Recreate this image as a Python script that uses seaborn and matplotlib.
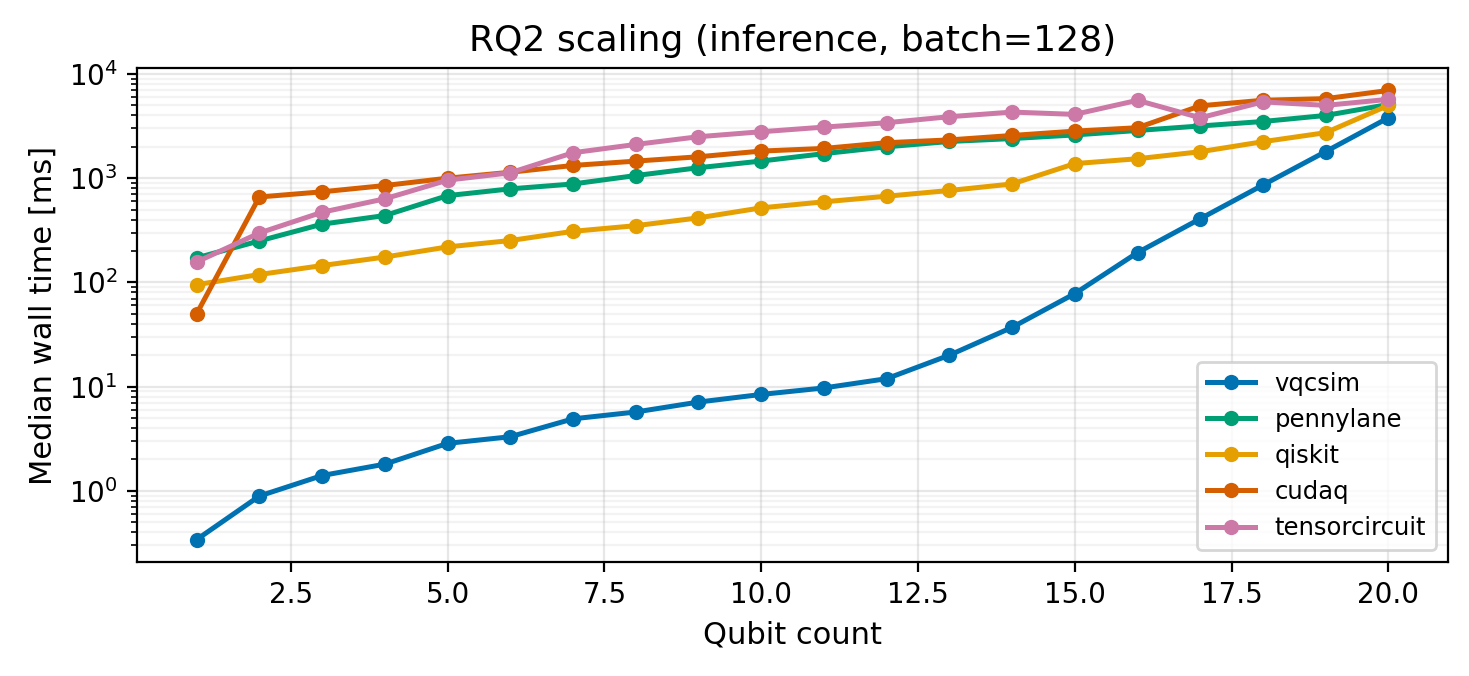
import numpy as np
import pandas as pd
import matplotlib
matplotlib.use("Agg")
import matplotlib.pyplot as plt
import seaborn as sns

# qubit counts
qubits = list(range(1, 21))

# median wall time [ms]
vqcsim = [0.34, 0.89, 1.4, 1.8, 2.85, 3.3, 4.9, 5.7, 7.1, 8.4, 9.7, 11.9,
          20, 37, 78, 193, 408, 860, 1800, 3800]
pennylane = [172, 250, 362, 438, 680, 790, 880, 1060, 1260, 1460, 1720, 2000,
             2250, 2400, 2600, 2870, 3170, 3500, 4000, 5100]
qiskit = [95, 119, 145, 175, 219, 252, 309, 350, 416, 519, 593, 671,
          762, 880, 1380, 1537, 1794, 2240, 2734, 5000]
cudaq = [50, 660, 740, 850, 1000, 1140, 1325, 1458, 1605, 1820, 1930, 2190,
         2330, 2570, 2830, 3050, 4950, 5600, 5800, 6950]
tensorcircuit = [157, 298, 471, 634, 957, 1127, 1755, 2108, 2500, 2790, 3092, 3407,
                 3890, 4310, 4096, 5590, 3800, 5400, 5000, 5710]

backends = ["vqcsim", "pennylane", "qiskit", "cudaq", "tensorcircuit"]
series = [vqcsim, pennylane, qiskit, cudaq, tensorcircuit]
colors = ["#0072B2", "#009E73", "#E69F00", "#D55E00", "#CC79A7"]

rows = []
for name, vals in zip(backends, series):
    for q, v in zip(qubits, vals):
        rows.append({"backend": name, "qubits": q, "ms": v})
df = pd.DataFrame(rows)

palette = dict(zip(backends, colors))

fig, ax = plt.subplots(figsize=(7.345, 3.38), dpi=200)
fig.subplots_adjust(left=0.0933, right=0.9857, top=0.8994, bottom=0.1686)

sns.lineplot(data=df, x="qubits", y="ms", hue="backend", hue_order=backends,
             palette=palette, marker="o", markersize=5.5, markeredgewidth=0,
             linewidth=1.8, ax=ax)

ax.set_yscale("log")
ax.set_title("RQ2 scaling (inference, batch=128)", fontsize=13)
ax.set_xlabel("Qubit count", fontsize=11)
ax.set_ylabel("Median wall time [ms]", fontsize=11)
ax.grid(True, which="major", alpha=0.3)
ax.grid(True, which="minor", axis="y", alpha=0.15)
ax.legend(loc="lower right", fontsize=8.75)

fig.savefig("out.png", dpi=200)
